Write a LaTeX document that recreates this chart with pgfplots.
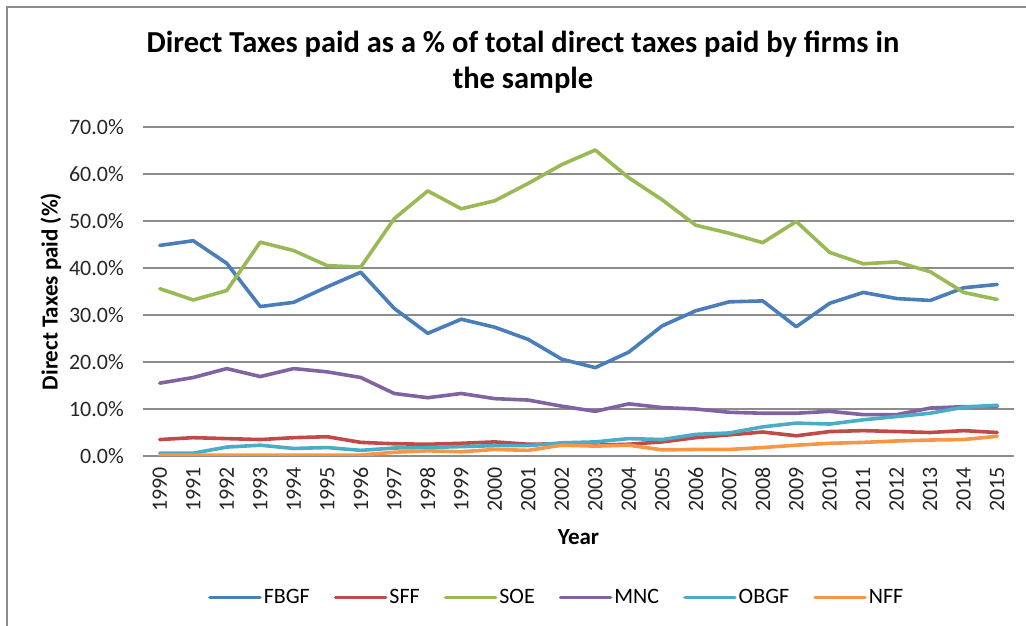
\documentclass[border=0pt]{standalone}
\usepackage{fontspec}
\setmainfont{Carlito}
\usepackage{pgfplots}
\pgfplotsset{compat=1.18}
\usepackage{pgfplotstable}

\definecolor{cFBGF}{RGB}{74,126,187}
\definecolor{cSFF}{RGB}{190,75,72}
\definecolor{cSOE}{RGB}{152,185,84}
\definecolor{cMNC}{RGB}{128,100,162}
\definecolor{cOBGF}{RGB}{75,172,198}
\definecolor{cNFF}{RGB}{247,150,70}

% share of total direct taxes (%)
\pgfplotstableread{
year FBGF SFF SOE MNC OBGF NFF
1990 44.8 3.5 35.6 15.5 0.6 0.2
1991 45.8 3.9 33.2 16.7 0.6 0.2
1992 41.0 3.7 35.2 18.6 1.9 0.2
1993 31.8 3.5 45.5 16.9 2.3 0.2
1994 32.7 3.9 43.7 18.6 1.6 0.2
1995 36.0 4.1 40.5 17.9 1.8 0.2
1996 39.1 2.9 40.2 16.7 1.2 0.2
1997 31.4 2.6 50.5 13.3 1.7 0.8
1998 26.1 2.5 56.4 12.4 1.8 1.1
1999 29.1 2.7 52.6 13.3 2.0 0.9
2000 27.4 3.0 54.3 12.2 2.2 1.4
2001 24.8 2.5 58.0 11.9 2.2 1.2
2002 20.6 2.6 62.0 10.6 2.8 2.3
2003 18.8 2.3 65.1 9.5 3.0 2.1
2004 22.1 2.5 59.2 11.1 3.7 2.3
2005 27.7 3.0 54.5 10.3 3.5 1.3
2006 30.9 3.9 49.1 10.0 4.6 1.4
2007 32.8 4.5 47.4 9.3 4.9 1.4
2008 33.0 5.1 45.4 9.1 6.2 1.8
2009 27.5 4.3 49.9 9.1 7.0 2.3
2010 32.5 5.2 43.3 9.5 6.8 2.7
2011 34.8 5.4 40.9 8.8 7.7 2.9
2012 33.5 5.2 41.3 8.8 8.4 3.2
2013 33.1 5.0 39.2 10.2 9.1 3.4
2014 35.8 5.4 34.8 10.5 10.4 3.5
2015 36.5 5.0 33.3 10.5 10.8 4.2
}\datatable

\begin{document}
\begin{tikzpicture}
\begin{axis}[
    at={(143pt,170pt)}, anchor=south west,
    scale only axis,
    width=871pt, height=329pt,
    xmin=1989.5, xmax=2015.5,
    ymin=0, ymax=70,
    xtick={1990,...,2015},
    ytick={0,10,...,70},
    major tick length=0pt,
    axis x line*=bottom, axis y line*=left,
    x axis line style={draw=black!45, line width=1.2pt, -},
    y axis line style={draw=none},
    ymajorgrids,
    major grid style={draw=black!45, line width=1.2pt},
    tick label style={font=\fontsize{22}{24}\selectfont, text=black!85},
    xticklabel style={rotate=90, anchor=east, inner sep=0pt,
        /pgf/number format/1000 sep={}, /pgf/number format/assume math mode=true},
    xticklabel shift=11pt,
    yticklabel style={anchor=east, inner sep=0pt},
    yticklabel shift=19pt,
    yticklabel={\pgfmathprintnumber[fixed,fixed zerofill,precision=1,assume math mode=true]{\tick}\%},
    xlabel={Year},
    ylabel={Direct Taxes paid (\%)},
    label style={font=\fontsize{23}{26}\selectfont\bfseries},
    xlabel style={at={(axis description cs:0.5,-0.246)}, anchor=center},
    ylabel style={at={(axis description cs:-0.1056,0.5)}, anchor=center},
    legend columns=6,
    legend style={at={(axis description cs:0.475,-0.43)}, anchor=center,
        draw=none, font=\fontsize{22}{24}\selectfont,
        /tikz/every even column/.append style={column sep=22pt}},
    legend image code/.code={\draw[#1] (0pt,0pt) -- (50pt,0pt);},
    every axis plot/.append style={line width=3.6pt, line join=round, line cap=round},
]
\addplot[cFBGF] table[x=year,y=FBGF] {\datatable};
\addlegendentry{FBGF}
\addplot[cSFF] table[x=year,y=SFF] {\datatable};
\addlegendentry{SFF}
\addplot[cSOE] table[x=year,y=SOE] {\datatable};
\addlegendentry{SOE}
\addplot[cMNC] table[x=year,y=MNC] {\datatable};
\addlegendentry{MNC}
\addplot[cOBGF] table[x=year,y=OBGF] {\datatable};
\addlegendentry{OBGF}
\addplot[cNFF] table[x=year,y=NFF] {\datatable};
\addlegendentry{NFF}
\end{axis}
\node[font=\fontsize{30.5}{36}\selectfont\bfseries, align=center] at (523pt,564pt)
    {Direct Taxes paid as a \% of total direct taxes paid by firms in\\the sample};
\draw[black!45, line width=1.8pt] (7pt,0pt) |- (1026pt,619pt);
\pgfresetboundingbox
\useasboundingbox (0pt,0pt) rectangle (1026pt,626pt);
\end{tikzpicture}
\end{document}
